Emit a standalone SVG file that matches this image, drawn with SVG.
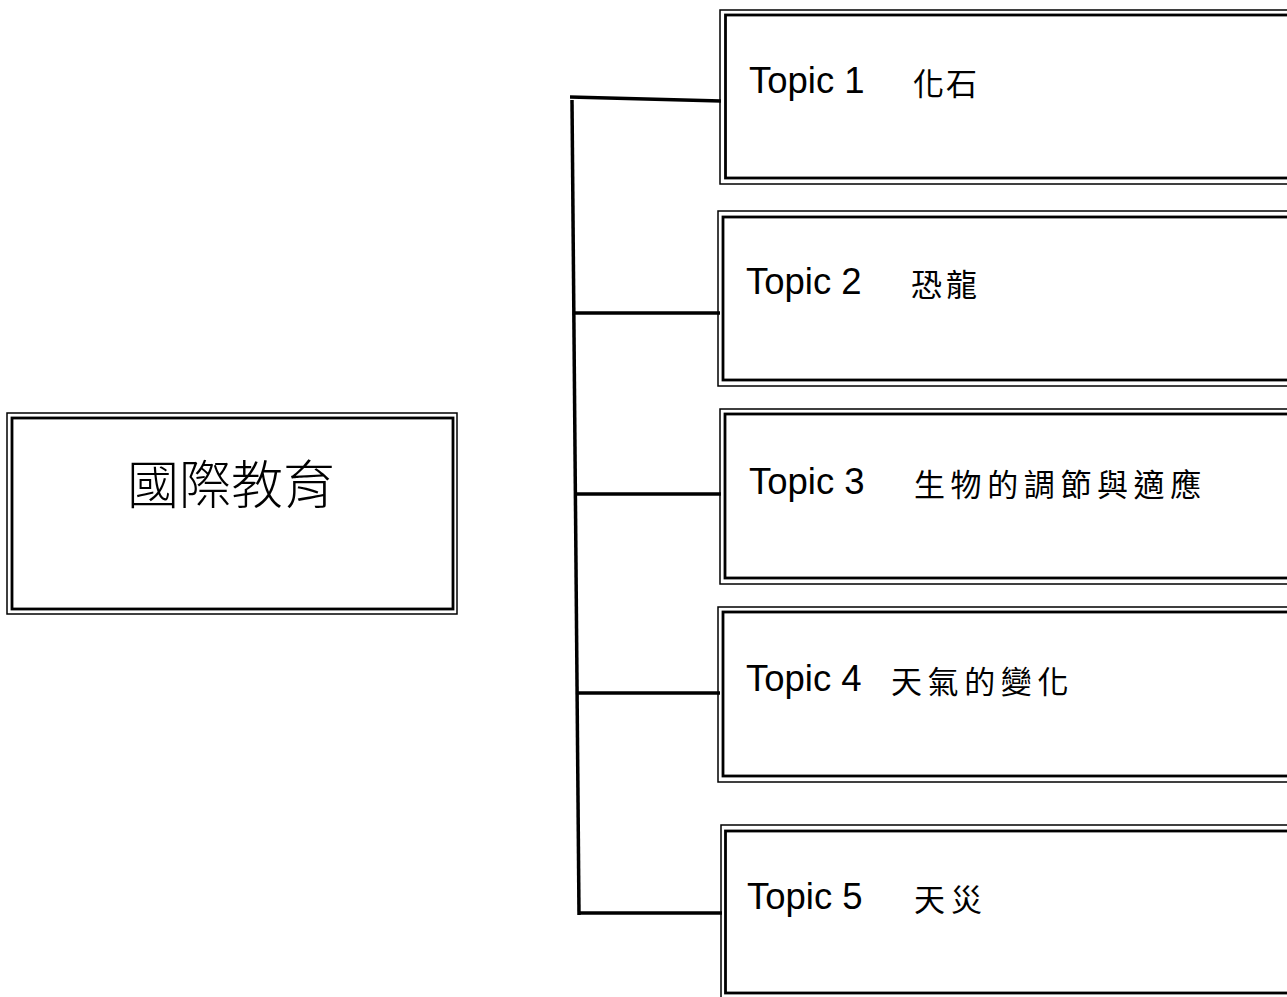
<svg xmlns="http://www.w3.org/2000/svg" width="1287" height="997" viewBox="0 0 1287 997">
<style>
.o{fill:none;stroke:#000;stroke-width:1.5}
.i{fill:none;stroke:#000;stroke-width:2.8}
.c{fill:none;stroke:#000;stroke-width:3.5;stroke-linecap:butt}
.t{font-family:"Liberation Sans","Noto Sans",sans-serif;font-size:36.5px;fill:#000}
.z{font-family:"Noto Sans CJK TC","Noto Sans CJK SC",sans-serif;font-size:31px;fill:#000}
.m{font-family:"Noto Sans CJK TC","Noto Sans CJK SC",sans-serif;font-size:52px;font-weight:300;fill:#000}
</style>
<rect width="1287" height="997" fill="#fff"/>
<g id="connectors">
<line class="c" x1="570" y1="97" x2="721" y2="101"/>
<line class="c" x1="572" y1="100" x2="579" y2="915"/>
<line class="c" x1="574" y1="313" x2="720" y2="313"/>
<line class="c" x1="576" y1="494" x2="721" y2="494"/>
<line class="c" x1="577" y1="693" x2="720" y2="693"/>
<line class="c" x1="578" y1="913" x2="722" y2="913"/>
</g>
<g id="main">
<rect class="o" x="7" y="413" width="450" height="201"/>
<rect class="i" x="12" y="418" width="441" height="191"/>
<text class="m" x="231" y="504" text-anchor="middle">國際教育</text>
</g>
<g id="topic1">
<rect class="o" x="720" y="10" width="600" height="174"/>
<rect class="i" x="725.5" y="15" width="600" height="163"/>
<text class="t" x="749" y="93">Topic 1</text>
<text class="z" x="913" y="95" letter-spacing="2">化石</text>
</g>
<g id="topic2">
<rect class="o" x="718" y="211" width="600" height="175"/>
<rect class="i" x="723" y="217" width="600" height="163"/>
<text class="t" x="746" y="294">Topic 2</text>
<text class="z" x="911" y="296" letter-spacing="4">恐龍</text>
</g>
<g id="topic3">
<rect class="o" x="720" y="409" width="600" height="175"/>
<rect class="i" x="725" y="414" width="600" height="164"/>
<text class="t" x="749" y="494">Topic 3</text>
<text class="z" x="914" y="496" letter-spacing="5.6">生物的調節與適應</text>
</g>
<g id="topic4">
<rect class="o" x="718" y="607" width="600" height="175"/>
<rect class="i" x="723" y="612" width="600" height="164"/>
<text class="t" x="746" y="691">Topic 4</text>
<text class="z" x="891" y="693" letter-spacing="5.6">天氣的變化</text>
</g>
<g id="topic5">
<rect class="o" x="721" y="825" width="600" height="200"/>
<rect class="i" x="725.5" y="831" width="600" height="162"/>
<text class="t" x="747" y="909">Topic 5</text>
<text class="z" x="914" y="911" letter-spacing="6">天災</text>
</g>
</svg>
